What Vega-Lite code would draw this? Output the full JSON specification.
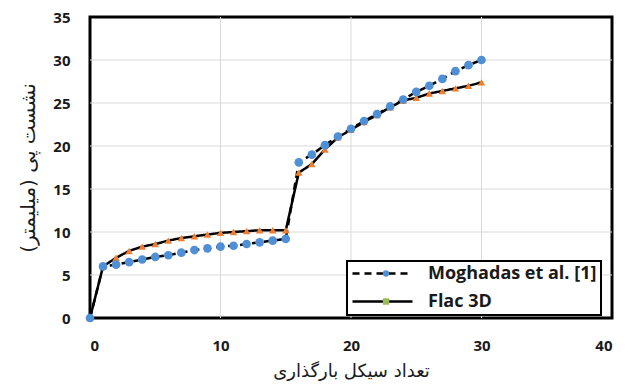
{
  "$schema": "https://vega.github.io/schema/vega-lite/v6.json",
  "width": 522,
  "height": 301,
  "autosize": {"type": "none"},
  "padding": {"left": 90, "top": 17, "right": 20, "bottom": 70},
  "background": "white",
  "config": {
    "view": {"stroke": "black", "strokeWidth": 3},
    "font": "Open Sans",
    "legend": {"strokeWidth": 2},
    "axis": {
      "domain": false,
      "ticks": false,
      "grid": false,
      "labelFont": "Open Sans",
      "labelFontWeight": "bold",
      "labelFontSize": 15,
      "labelColor": "#1a1a1a",
      "titleFont": "DejaVu Sans",
      "titleFontWeight": "normal",
      "titleColor": "#1a1a1a"
    }
  },
  "data": {
    "values": [
      {"cycle": 0, "settlement": 0, "series": "Moghadas et al. [1]"},
      {"cycle": 1, "settlement": 6.0, "series": "Moghadas et al. [1]"},
      {"cycle": 2, "settlement": 6.2, "series": "Moghadas et al. [1]"},
      {"cycle": 3, "settlement": 6.5, "series": "Moghadas et al. [1]"},
      {"cycle": 4, "settlement": 6.8, "series": "Moghadas et al. [1]"},
      {"cycle": 5, "settlement": 7.1, "series": "Moghadas et al. [1]"},
      {"cycle": 6, "settlement": 7.3, "series": "Moghadas et al. [1]"},
      {"cycle": 7, "settlement": 7.6, "series": "Moghadas et al. [1]"},
      {"cycle": 8, "settlement": 7.9, "series": "Moghadas et al. [1]"},
      {"cycle": 9, "settlement": 8.1, "series": "Moghadas et al. [1]"},
      {"cycle": 10, "settlement": 8.3, "series": "Moghadas et al. [1]"},
      {"cycle": 11, "settlement": 8.4, "series": "Moghadas et al. [1]"},
      {"cycle": 12, "settlement": 8.6, "series": "Moghadas et al. [1]"},
      {"cycle": 13, "settlement": 8.8, "series": "Moghadas et al. [1]"},
      {"cycle": 14, "settlement": 9.0, "series": "Moghadas et al. [1]"},
      {"cycle": 15, "settlement": 9.2, "series": "Moghadas et al. [1]"},
      {"cycle": 16, "settlement": 18.1, "series": "Moghadas et al. [1]"},
      {"cycle": 17, "settlement": 19.0, "series": "Moghadas et al. [1]"},
      {"cycle": 18, "settlement": 20.1, "series": "Moghadas et al. [1]"},
      {"cycle": 19, "settlement": 21.1, "series": "Moghadas et al. [1]"},
      {"cycle": 20, "settlement": 22.0, "series": "Moghadas et al. [1]"},
      {"cycle": 21, "settlement": 22.9, "series": "Moghadas et al. [1]"},
      {"cycle": 22, "settlement": 23.7, "series": "Moghadas et al. [1]"},
      {"cycle": 23, "settlement": 24.6, "series": "Moghadas et al. [1]"},
      {"cycle": 24, "settlement": 25.4, "series": "Moghadas et al. [1]"},
      {"cycle": 25, "settlement": 26.3, "series": "Moghadas et al. [1]"},
      {"cycle": 26, "settlement": 27.0, "series": "Moghadas et al. [1]"},
      {"cycle": 27, "settlement": 27.8, "series": "Moghadas et al. [1]"},
      {"cycle": 28, "settlement": 28.7, "series": "Moghadas et al. [1]"},
      {"cycle": 29, "settlement": 29.4, "series": "Moghadas et al. [1]"},
      {"cycle": 30, "settlement": 30.0, "series": "Moghadas et al. [1]"},
      {"cycle": 0, "settlement": 0, "series": "Flac 3D"},
      {"cycle": 1, "settlement": 6.0, "series": "Flac 3D"},
      {"cycle": 2, "settlement": 7.0, "series": "Flac 3D"},
      {"cycle": 3, "settlement": 7.8, "series": "Flac 3D"},
      {"cycle": 4, "settlement": 8.3, "series": "Flac 3D"},
      {"cycle": 5, "settlement": 8.6, "series": "Flac 3D"},
      {"cycle": 6, "settlement": 9.0, "series": "Flac 3D"},
      {"cycle": 7, "settlement": 9.3, "series": "Flac 3D"},
      {"cycle": 8, "settlement": 9.5, "series": "Flac 3D"},
      {"cycle": 9, "settlement": 9.7, "series": "Flac 3D"},
      {"cycle": 10, "settlement": 9.9, "series": "Flac 3D"},
      {"cycle": 11, "settlement": 10.0, "series": "Flac 3D"},
      {"cycle": 12, "settlement": 10.1, "series": "Flac 3D"},
      {"cycle": 13, "settlement": 10.2, "series": "Flac 3D"},
      {"cycle": 14, "settlement": 10.2, "series": "Flac 3D"},
      {"cycle": 15, "settlement": 10.2, "series": "Flac 3D"},
      {"cycle": 16, "settlement": 16.9, "series": "Flac 3D"},
      {"cycle": 17, "settlement": 17.9, "series": "Flac 3D"},
      {"cycle": 18, "settlement": 19.6, "series": "Flac 3D"},
      {"cycle": 19, "settlement": 21.0, "series": "Flac 3D"},
      {"cycle": 20, "settlement": 21.9, "series": "Flac 3D"},
      {"cycle": 21, "settlement": 22.8, "series": "Flac 3D"},
      {"cycle": 22, "settlement": 23.6, "series": "Flac 3D"},
      {"cycle": 23, "settlement": 24.5, "series": "Flac 3D"},
      {"cycle": 24, "settlement": 25.3, "series": "Flac 3D"},
      {"cycle": 25, "settlement": 25.6, "series": "Flac 3D"},
      {"cycle": 26, "settlement": 26.1, "series": "Flac 3D"},
      {"cycle": 27, "settlement": 26.4, "series": "Flac 3D"},
      {"cycle": 28, "settlement": 26.7, "series": "Flac 3D"},
      {"cycle": 29, "settlement": 27.0, "series": "Flac 3D"},
      {"cycle": 30, "settlement": 27.4, "series": "Flac 3D"}
    ]
  },
  "layer": [
    {
      "data": {"values": [{"cycle": 10}, {"cycle": 20}, {"cycle": 30}]},
      "mark": {"type": "rule", "color": "#d9d9d9", "strokeWidth": 1},
      "encoding": {
        "x": {"field": "cycle", "type": "quantitative"}
      }
    },
    {
      "data": {"values": [{"settlement": 5}, {"settlement": 10}, {"settlement": 15}, {"settlement": 20}, {"settlement": 25}, {"settlement": 30}]},
      "mark": {"type": "rule", "color": "#d9d9d9", "strokeWidth": 1},
      "encoding": {
        "y": {"field": "settlement", "type": "quantitative"}
      }
    },
    {
      "mark": {"type": "line", "color": "black", "strokeWidth": 2.5},
      "encoding": {
        "x": {
          "field": "cycle",
          "type": "quantitative",
          "scale": {"domain": [0, 40], "nice": false},
          "axis": {
            "values": [0, 10, 20, 30, 40],
            "title": "تعداد سیکل بارگذاری",
            "labelPadding": 20,
            "titlePadding": 9,
            "titleFontSize": 18
          }
        },
        "y": {
          "field": "settlement",
          "type": "quantitative",
          "scale": {"domain": [0, 35], "nice": false},
          "axis": {
            "values": [0, 5, 10, 15, 20, 25, 30, 35],
            "title": "نشست پی (میلیمتر)",
            "titleFontSize": 20,
            "labelPadding": 20,
            "titlePadding": 14
          }
        },
        "strokeDash": {
          "field": "series",
          "type": "nominal",
          "sort": "descending",
          "scale": {"range": [[7, 5], [1, 0]]},
          "legend": {
            "title": null,
            "orient": "none",
            "legendX": 257,
            "legendY": 244,
            "padding": 4,
            "rowPadding": 9,
            "clipHeight": 17,
            "fillColor": "white",
            "strokeColor": "black",
            "symbolType": "stroke",
            "symbolSize": 3600,
            "symbolStrokeWidth": 2.5,
            "symbolStrokeColor": "black",
            "labelFont": "Open Sans",
            "labelFontWeight": "bold",
            "labelFontSize": 18,
            "labelColor": "#1a1a1a",
            "labelOffset": 14,
            "labelLimit": 300
          }
        }
      }
    },
    {
      "mark": {"type": "point", "filled": true, "size": 8, "opacity": 1},
      "encoding": {
        "x": {"field": "cycle", "type": "quantitative"},
        "y": {"field": "settlement", "type": "quantitative"},
        "shape": {
          "field": "series",
          "type": "nominal",
          "scale": {
            "domain": ["Moghadas et al. [1]", "Flac 3D"],
            "range": ["circle", "square"]
          },
          "legend": {
            "title": null,
            "orient": "none",
            "legendX": 257,
            "legendY": 244,
            "padding": 4,
            "rowPadding": 9,
            "clipHeight": 17,
            "symbolSize": 40,
            "symbolOffset": 26,
            "labelFont": "Open Sans",
            "labelFontWeight": "bold",
            "labelFontSize": 18,
            "labelColor": "transparent",
            "labelLimit": 300
          }
        },
        "fill": {
          "field": "series",
          "type": "nominal",
          "scale": {
            "domain": ["Moghadas et al. [1]", "Flac 3D"],
            "range": ["#4f8fd6", "#9bbb59"]
          },
          "legend": {
            "title": null,
            "orient": "none",
            "legendX": 257,
            "legendY": 244,
            "padding": 4,
            "rowPadding": 9,
            "clipHeight": 17,
            "symbolSize": 40,
            "symbolOffset": 26,
            "labelFont": "Open Sans",
            "labelFontWeight": "bold",
            "labelFontSize": 18,
            "labelColor": "transparent",
            "labelLimit": 300
          }
        }
      }
    },
    {
      "transform": [{"filter": "datum.series === 'Flac 3D'"}],
      "mark": {"type": "point", "shape": "triangle-up", "filled": true, "size": 55, "color": "#ed7d31", "opacity": 1},
      "encoding": {
        "x": {"field": "cycle", "type": "quantitative"},
        "y": {"field": "settlement", "type": "quantitative"}
      }
    },
    {
      "transform": [{"filter": "datum.series === 'Moghadas et al. [1]'"}],
      "mark": {"type": "point", "shape": "circle", "filled": true, "size": 75, "color": "#4f8fd6", "opacity": 1},
      "encoding": {
        "x": {"field": "cycle", "type": "quantitative"},
        "y": {"field": "settlement", "type": "quantitative"}
      }
    }
  ]
}
